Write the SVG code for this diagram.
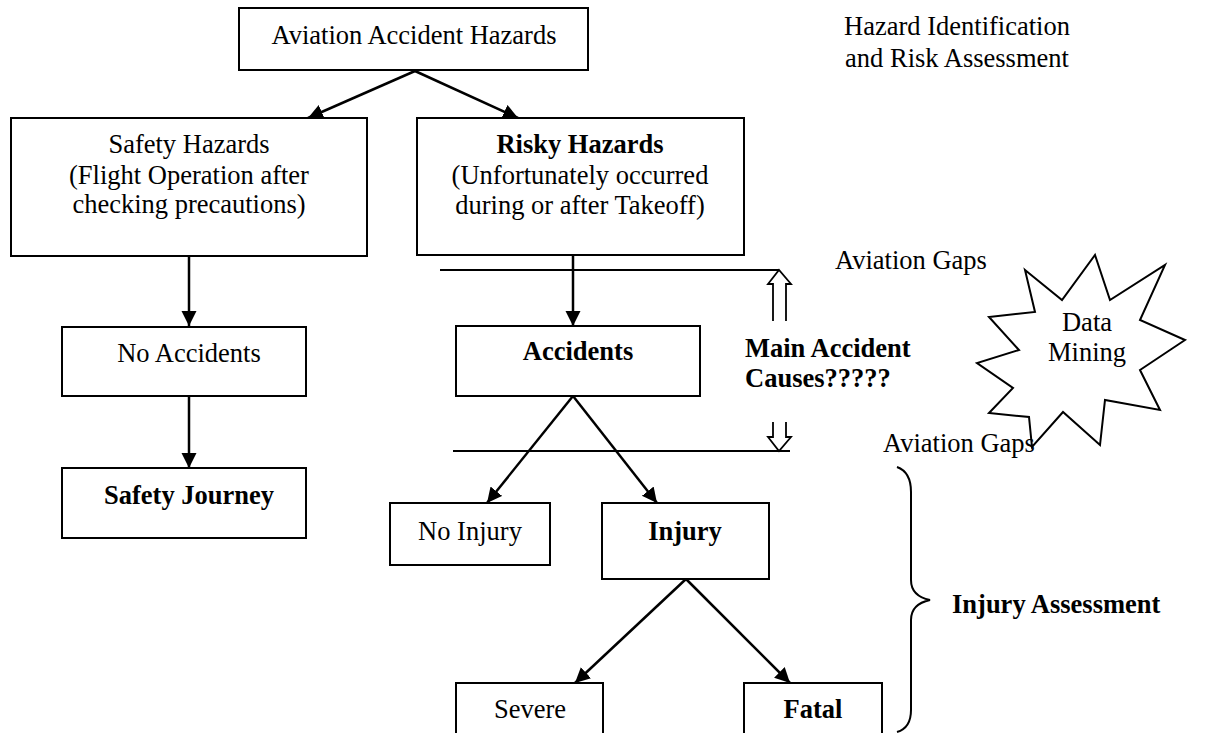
<svg xmlns="http://www.w3.org/2000/svg" width="1216" height="733" viewBox="0 0 1216 733">
<defs>
<marker id="ah" markerUnits="userSpaceOnUse" markerWidth="16" markerHeight="16" refX="15" refY="7.5" orient="auto">
<path d="M0,0 L15,7.5 L0,15 z" fill="#000"/>
</marker>
<style>
.box{fill:#fff;stroke:#000;stroke-width:2}
.t{font-family:"Liberation Serif","Times New Roman",serif;font-size:26.5px;fill:#000}
.c{text-anchor:middle}
.b{font-weight:bold}
.con{stroke:#000;stroke-width:2.5;fill:none;marker-end:url(#ah)}
.ln{stroke:#000;stroke-width:2;fill:none}
.hollow{stroke:#000;stroke-width:1.8;fill:none}
</style>
</defs>
<rect width="1216" height="733" fill="#fff"/>

<g id="connectors">
<line class="con" x1="415" y1="71" x2="308" y2="118"/>
<line class="con" x1="415" y1="71" x2="518" y2="118"/>
<line class="con" x1="189" y1="256" x2="189" y2="326"/>
<line class="con" x1="189" y1="396" x2="189" y2="468"/>
<line class="con" x1="573" y1="255" x2="573" y2="326"/>
<line class="con" x1="573" y1="396" x2="487" y2="503"/>
<line class="con" x1="573" y1="396" x2="657" y2="503"/>
<line class="con" x1="686" y1="579" x2="575" y2="683"/>
<line class="con" x1="686" y1="579" x2="790" y2="683"/>
</g>

<g id="gap-lines">
<line class="ln" x1="440" y1="270" x2="779" y2="270"/>
<line class="ln" x1="453" y1="451" x2="790" y2="451"/>
<path class="hollow" d="M773,321 L773,284 L768,284 L779,270 L791,284 L786,284 L786,321"/>
<path class="hollow" d="M773,422 L773,437 L768,437 L779,451 L791,437 L786,437 L786,422"/>
</g>

<g id="n-top">
<rect class="box" x="239" y="8" width="349" height="62"/>
<text class="t c" x="414" y="44">Aviation Accident Hazards</text>
</g>

<g id="n-title">
<text class="t c" x="957" y="35">Hazard Identification</text>
<text class="t c" x="957" y="67">and Risk Assessment</text>
</g>

<g id="n-safety-hazards">
<rect class="box" x="11" y="118" width="356" height="138"/>
<text class="t c" x="189" y="153">Safety Hazards</text>
<text class="t c" x="189" y="184">(Flight Operation after</text>
<text class="t c" x="189" y="213">checking precautions)</text>
</g>

<g id="n-risky-hazards">
<rect class="box" x="417" y="118" width="327" height="137"/>
<text class="t c b" x="580" y="153">Risky Hazards</text>
<text class="t c" x="580" y="184">(Unfortunately occurred</text>
<text class="t c" x="580" y="214">during or after Takeoff)</text>
</g>

<g id="n-no-accidents">
<rect class="box" x="62" y="327" width="244" height="69"/>
<text class="t c" x="189" y="362">No Accidents</text>
</g>

<g id="n-safety-journey">
<rect class="box" x="62" y="468" width="244" height="70"/>
<text class="t c b" x="189" y="504">Safety Journey</text>
</g>

<g id="n-accidents">
<rect class="box" x="456" y="326" width="244" height="70"/>
<text class="t c b" x="578" y="360">Accidents</text>
</g>

<g id="n-main-causes">
<text class="t b" x="745" y="357">Main Accident</text>
<text class="t b" x="745" y="387">Causes?????</text>
</g>

<g id="n-gaps-top">
<text class="t" x="835" y="269">Aviation Gaps</text>
</g>

<g id="n-gaps-bottom">
<text class="t" x="883" y="452">Aviation Gaps</text>
</g>

<g id="n-data-mining">
<path class="ln" d="M1025,270 L1062,300 L1095,255 L1110,300 L1165,265 L1140,320 L1185,340 L1140,370 L1160,410 L1105,400 L1100,445 L1063,412 L1032,447 L1029,417 L989,413 L1013,388 L977,363 L1019,350 L989,317 L1035,312 Z"/>
<text class="t c" x="1087" y="331">Data</text>
<text class="t c" x="1087" y="361">Mining</text>
</g>

<g id="n-no-injury">
<rect class="box" x="390" y="503" width="160" height="62"/>
<text class="t c" x="470" y="540">No Injury</text>
</g>

<g id="n-injury">
<rect class="box" x="602" y="503" width="167" height="76"/>
<text class="t c b" x="685" y="540">Injury</text>
</g>

<g id="n-severe">
<rect class="box" x="456" y="683" width="147" height="70"/>
<text class="t c" x="530" y="718">Severe</text>
</g>

<g id="n-fatal">
<rect class="box" x="744" y="683" width="138" height="70"/>
<text class="t c b" x="813" y="718">Fatal</text>
</g>

<g id="n-injury-assessment">
<path class="ln" d="M897,467 Q911,472 911,492 L911,580 Q911,596 930,600 Q911,604 911,620 L911,710 Q911,728 897,732"/>
<text class="t b" x="952" y="613">Injury Assessment</text>
</g>
</svg>
